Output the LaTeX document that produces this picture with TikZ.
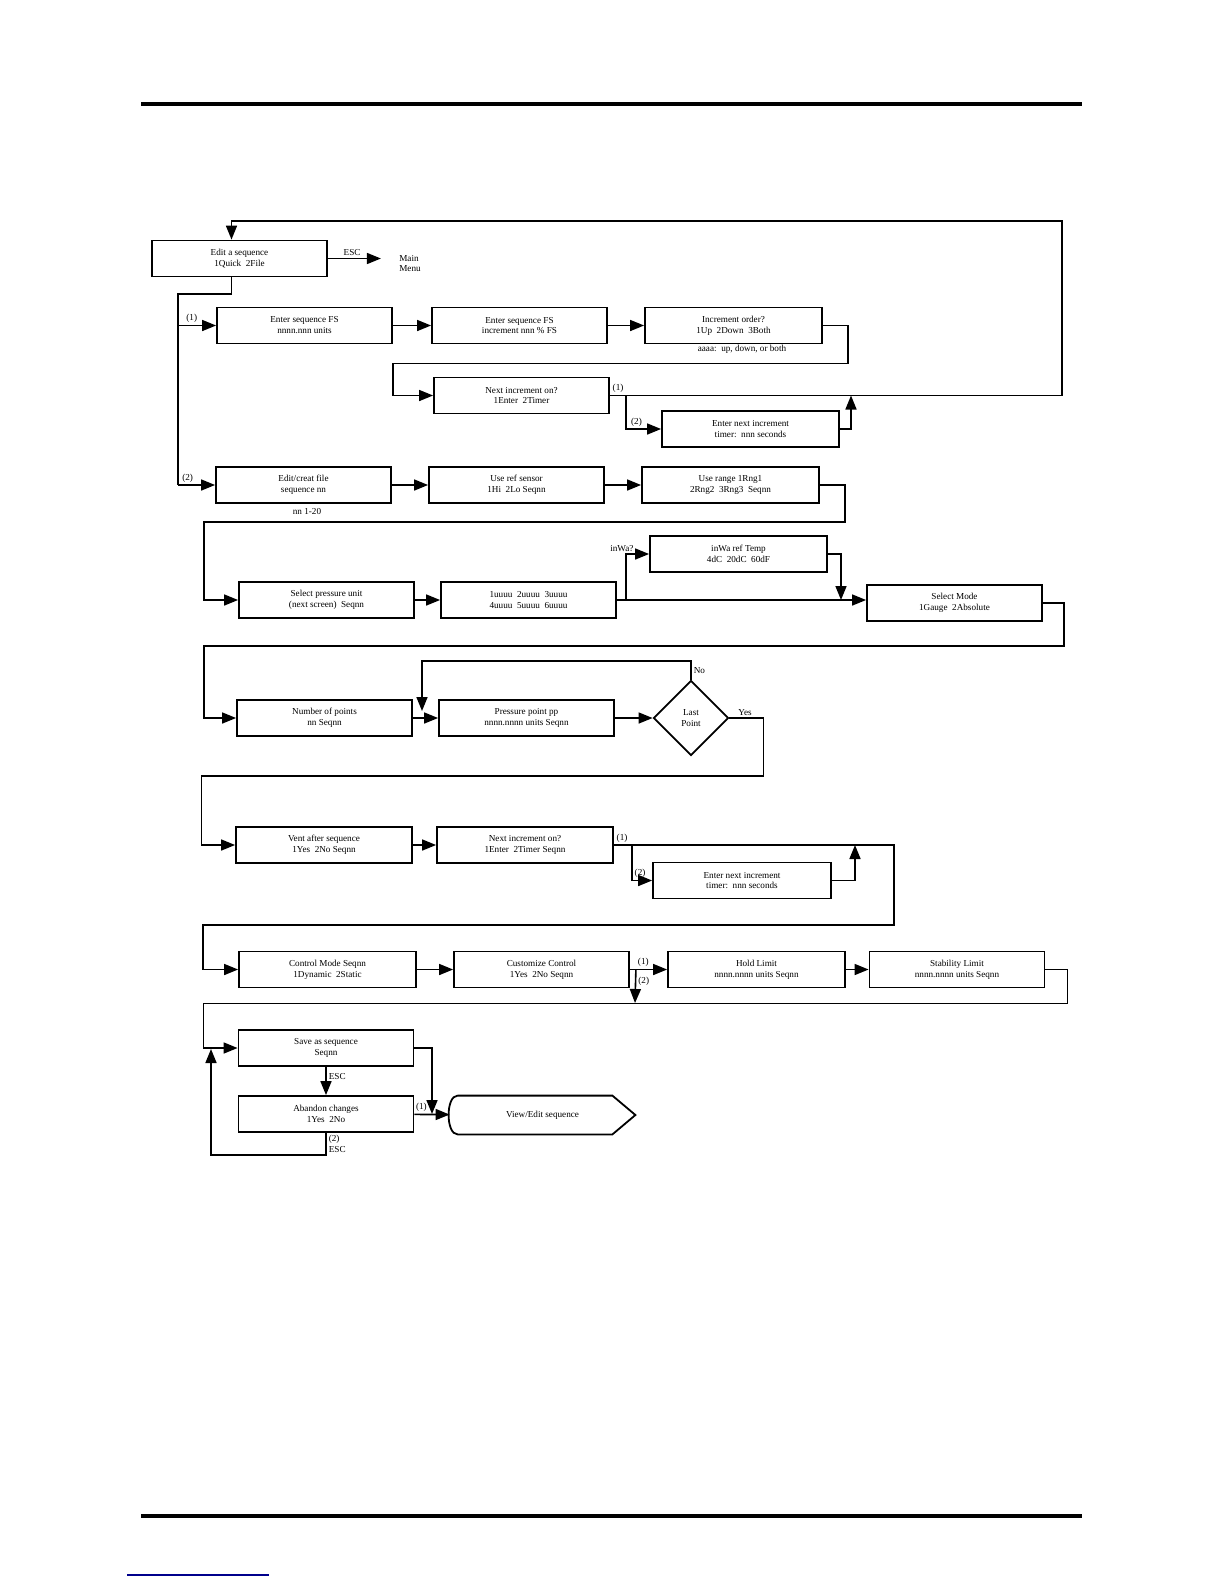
\documentclass[tikz,border=0pt]{standalone}
\usepackage{fontspec}
\setmainfont{Liberation Serif}
\usepackage{tikz}
\usetikzlibrary{arrows.meta,shapes.geometric}

\begin{document}
\begin{tikzpicture}[x=0.5bp,y=-0.5bp,font=\fontsize{4.6}{5.5}\selectfont,
  box/.style={draw,line width=0.9bp,minimum width=87.5bp,minimum height=18bp,align=center,inner sep=1bp},
  arr/.style={line width=0.8bp,-{Triangle[length=7bp,width=5.5bp]}},
  wire/.style={line width=0.8bp},
  lbl/.style={inner sep=1bp}]
  \useasboundingbox (0,0) rectangle (1224,1584);
  \draw[line width=1.6bp] (141,104) -- (1082,104);
  \draw[line width=1.6bp] (141,1516) -- (1082,1516);
  \draw[blue!55!black,line width=0.6bp] (127,1575) -- (269,1575);

  \node[box] (edit) at (239.5,258.5) {Edit a sequence\\1Quick~~2File};
  \node[lbl,align=left] (menu) at (410,263.5) {Main\\Menu};
  \node[box] (fs) at (304.5,325.5) {Enter sequence FS\\nnnn.nnn units};
  \node[box] (fsinc) at (519.5,325.5) {Enter sequence FS\\increment nnn \% FS};
  \node[box,minimum width=88.5bp] (order) at (733.5,325.5) {Increment order?\\1Up~~2Down~~3Both};
  \node[lbl] (hint) at (742,349) {aaaa:~~up, down, or both};
  \node[box] (nextinc) at (521.5,395.5) {Next increment on?\\1Enter~~2Timer};
  \node[box,minimum width=88.5bp] (timer) at (750.5,429) {Enter next increment\\timer:~~nnn seconds};
  \node[box] (file) at (303.5,485) {Edit/creat file\\sequence nn};
  \node[lbl] (nnrange) at (307,511) {nn 1-20};
  \node[box] (sensor) at (516.5,485) {Use ref sensor\\1Hi~~2Lo Seqnn};
  \node[box,minimum width=88.5bp] (range) at (730.5,485) {Use range 1Rng1\\2Rng2~~3Rng3~~Seqnn};
  \node[box] (punit) at (326.5,600) {Select pressure unit\\(next screen)~~Seqnn};
  \node[box] (units) at (528.5,600) {1uuuu~~2uuuu~~3uuuu\\4uuuu~~5uuuu~~6uuuu};
  \node[box,minimum width=88.5bp] (inwa) at (738.5,554) {inWa ref Temp\\4dC~~20dC~~60dF};
  \node[box] (mode) at (954.5,603) {Select Mode\\1Gauge~~2Absolute};
  \node[box] (npts) at (324.5,718) {Number of points\\nn Seqnn};
  \node[box] (ppt) at (526.5,718) {Pressure point pp\\nnnn.nnnn units Seqnn};
  \node[draw,diamond,line width=0.9bp,minimum size=37.5bp,inner sep=0pt,align=center] (last) at (691,718) {Last\\Point};
  \node[box,minimum width=88bp] (vent) at (324,845) {Vent after sequence\\1Yes~~2No Seqnn};
  \node[box,minimum width=88bp] (nextinc2) at (525,845) {Next increment on?\\1Enter~~2Timer Seqnn};
  \node[box,minimum width=89bp] (timer2) at (742,880.5) {Enter next increment\\timer:~~nnn seconds};
  \node[box,minimum width=88.5bp] (ctrl) at (327.5,969.5) {Control Mode Seqnn\\1Dynamic~~2Static};
  \node[box] (cust) at (541.5,969.5) {Customize Control\\1Yes~~2No Seqnn};
  \node[box,minimum width=88.5bp] (hold) at (756.5,969.5) {Hold Limit\\nnnn.nnnn units Seqnn};
  \node[box] (stab) at (957,969.5) {Stability Limit\\nnnn.nnnn units Seqnn};
  \node[box] (save) at (326,1048) {Save as sequence\\Seqnn};
  \node[box] (aband) at (326,1114) {Abandon changes\\1Yes~~2No};
  \node[minimum width=92.5bp,minimum height=19bp,inner sep=0pt] (view) at (542.5,1115) {View/Edit sequence};
  \draw[line width=0.9bp] ([xshift=4bp]view.north west) -- ([xshift=-11.5bp]view.north east) -- (view.east)
    -- ([xshift=-11.5bp]view.south east) -- ([xshift=4bp]view.south west)
    .. controls ([xshift=-2bp]view.south west) and ([xshift=-2bp]view.north west) .. ([xshift=4bp]view.north west);

  \coordinate (trunk) at (178,294);
  \coordinate (loop1) at (1062,221);
  \coordinate (up1) at (851,395.5);
  \coordinate (down1) at (841,600);
  \coordinate (noin) at (422,711);
  \coordinate (up2) at (855,845);
  \coordinate (down2) at (635,1003);
  \coordinate (j5) at (432,1114);
  \coordinate (j6) at (211,1049);

  \draw[arr,shorten >=8bp] (edit.east) -- (edit.east -| menu.west) node[pos=0.35,above,lbl]{ESC};
  \draw[wire] ([xshift=-4bp]edit.south) |- (trunk) -- (trunk |- file.west);
  \draw[arr] (trunk |- fs.west) -- node[pos=0.36,above,lbl]{(1)} (fs.west);
  \draw[arr] (trunk |- file.west) -- node[pos=0.26,above,lbl]{(2)} (file.west);
  \draw[arr] (fs) -- (fsinc);
  \draw[arr] (fsinc) -- (order);
  \draw[arr] (order.east) -| ++(25,38) -| (fs.east |- nextinc.west) -- (nextinc.west);
  \draw[arr] (nextinc.east) node[above right,lbl]{(1)} -| (loop1) -| ([xshift=-4bp]edit.north);
  \draw[arr] ([xshift=8bp]nextinc.east) |- node[pos=0.65,above,lbl]{(2)} (timer.west);
  \draw[arr] (timer.east) -| (up1);
  \draw[arr] (file) -- (sensor);
  \draw[arr] (sensor) -- (range);
  \draw[arr] (range.east) -| ++(25,37) -| ++(-641,78) -- (punit.west);
  \draw[arr] (punit) -- (units);
  \draw[arr] (units.east) -- (units.east -| mode.west);
  \draw[arr] ([xshift=4.5bp]units.east) |- node[pos=0.5,above,xshift=-2bp,lbl]{inWa?} (inwa.west);
  \draw[arr] (inwa.east) -| (down1);
  \draw[arr] (mode.east) -| ++(21,43) -| ++(-860,72) -- (npts.west);
  \draw[arr] (npts) -- (ppt);
  \draw[arr] (ppt) -- (last);
  \draw[arr] (last.north) -- node[right,lbl]{No} ++(0,-18.5) -| (noin);
  \draw[arr] (last.east) -| node[pos=0.23,above,lbl]{Yes} ++(34,58) -| ++(-562,69) -- (vent.west);
  \draw[arr] (vent) -- (nextinc2);
  \draw[arr] (nextinc2.east) node[above right,lbl]{(1)} -| ++(280,80) -| ++(-691,44.5) -- (ctrl.west);
  \draw[arr] ([xshift=9bp]nextinc2.east) |- node[pos=0.5,above right,lbl]{(2)} (timer2.west);
  \draw[arr] (timer2.east) -| (up2);
  \draw[arr] (ctrl) -- (cust);
  \draw[arr] (cust) -- node[pos=0.36,above,lbl]{(1)} (hold);
  \draw[arr] ([xshift=3bp]cust.east) -- node[pos=0.35,right,lbl]{(2)} (down2);
  \draw[arr] (hold) -- (stab);
  \draw[arr] (stab.east) -| ++(22,34) -| ++(-864,44.5) -- (save.west);
  \draw[arr] (save) -- node[pos=0.35,right,lbl]{ESC} (aband);
  \draw[arr] (save.east) -| (j5);
  \draw[arr] (aband) -- node[pos=0.2,above,lbl]{(1)} (view);
  \draw[arr] (aband.south) -- node[right,lbl,align=left]{(2)\\ESC} ++(0,22) -| (j6);
\end{tikzpicture}
\end{document}
